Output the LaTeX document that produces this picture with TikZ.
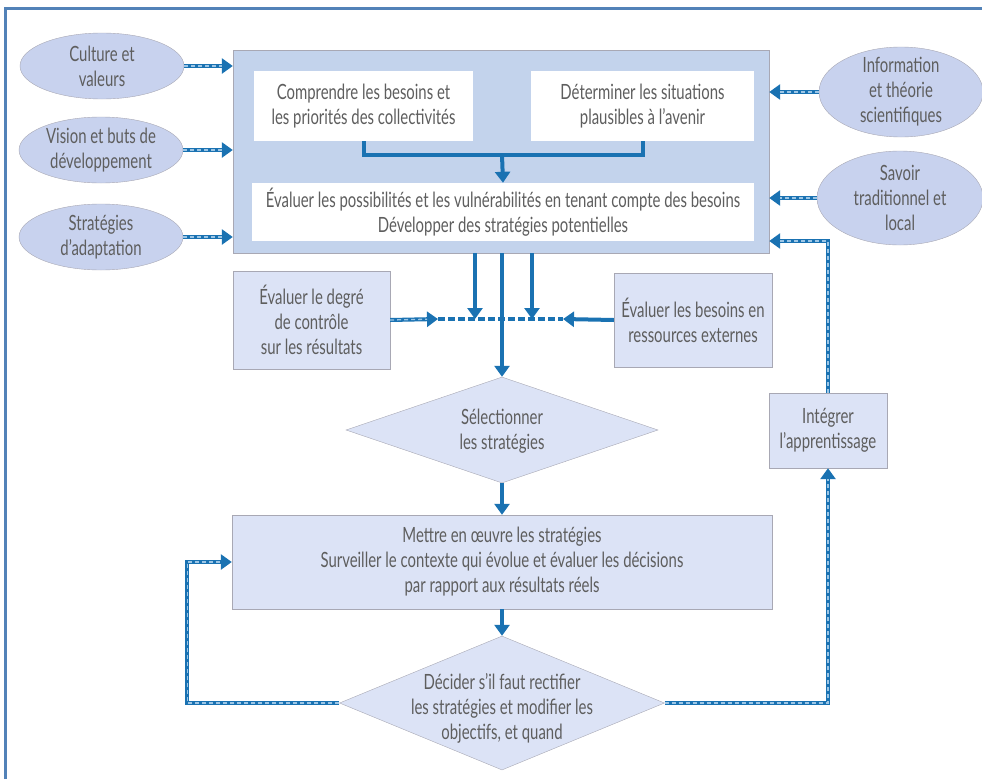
\documentclass[tikz,border=0pt]{standalone}
\usepackage{fontspec}
\setmainfont{Lato}[FakeStretch=0.71]
\usetikzlibrary{shapes.geometric,arrows.meta}

\definecolor{linkblue}{HTML}{1A72B2}
\definecolor{linklight}{HTML}{9CC6E6}
\definecolor{textgray}{HTML}{5E5E5E}
\definecolor{edgegray}{HTML}{A8A8B4}
\definecolor{ovalfill}{HTML}{C8D2EE}
\definecolor{boxfill}{HTML}{DCE3F6}
\definecolor{mainfill}{HTML}{C3D3EC}
\definecolor{framecol}{HTML}{5282B8}

\begin{document}
\begin{tikzpicture}[x=1pt, y=-1pt,
  every node/.style={font=\fontsize{21}{25}\selectfont, text=textgray, align=center, inner sep=0pt},
  oval/.style={ellipse, draw=edgegray, fill=ovalfill, inner ysep=-14pt, minimum width=164pt, minimum height=66pt},
  panel/.style={rectangle, draw=edgegray, fill=boxfill},
  whitebox/.style={rectangle, fill=white},
  choice/.style={diamond, draw=edgegray, fill=boxfill},
  link/.style={draw=linkblue, line width=4pt, -{Triangle[length=11pt,width=15pt]}},
  dlink/.style={link, postaction={draw=linklight, line width=1.3pt, dash pattern=on 4pt off 3pt, -, shorten >=11pt}},
  plainlink/.style={draw=linkblue, line width=4pt}
]
\useasboundingbox (0,0) rectangle (982,779);
\draw[framecol, line width=3pt] (5,779) -- (5,8) -- (982,8);

% inputs
\node[oval] (cult) at (102,66) {Culture et\\valeurs};
\node[oval] (vis) at (101,150) {Vision et buts de\\développement};
\node[oval] (adapt) at (101,237) {Stratégies\\d’adaptation};
\node[oval, minimum width=164pt, minimum height=90pt] (info) at (901,92) {Information\\et théorie\\scientifiques};
\node[oval, minimum width=166pt, minimum height=94pt] (savoir) at (900,198) {Savoir\\traditionnel et\\local};

% main block
\node[rectangle, draw=edgegray, fill=mainfill, minimum width=536pt, minimum height=203pt] (main) at (501,151.5) {};
\node[whitebox, minimum width=219pt, minimum height=70pt] (compr) at (363.5,106) {Comprendre les besoins et\\les priorités des collectivités};
\node[whitebox, minimum width=223pt, minimum height=70pt] (deter) at (642.5,106) {Déterminer les situations\\plausibles à l’avenir};
\node[whitebox, minimum width=502pt, minimum height=58pt] (evalposs) at (503,212) {Évaluer les possibilités et les vulnérabilités en tenant compte des besoins\\Développer des stratégies potentielles};

\node[panel, minimum width=157pt, minimum height=98pt] (degre) at (311.5,320) {Évaluer le degré\\de contrôle\\sur les résultats};
\node[panel, minimum width=158pt, minimum height=94pt] (besoins) at (693,320) {Évaluer les besoins en\\ressources externes};

\node[choice, minimum width=312pt, minimum height=106pt] (select) at (502,430) {};
\node (selecttxt) at (502,431) {Sélectionner\\les stratégies};

\node[panel, minimum width=118pt, minimum height=75pt] (integ) at (828,430.5) {Intégrer\\l’apprentissage};

\node[panel, minimum width=540pt, minimum height=94pt] (mettre) at (502,562) {Mettre en œuvre les stratégies\\Surveiller le contexte qui évolue et évaluer les décisions\\par rapport aux résultats réels};

\node[choice, minimum width=325pt, minimum height=134pt] (decider) at (502,703) {};
\node (decidertxt) at (502,708) {Décider s’il faut rectifier\\les stratégies et modifier les\\objectifs, et quand};

\coordinate (join) at (502,155);
\coordinate (hl) at (438,319);
\coordinate (hr) at (563,319);
\coordinate (fbturn) at (828,241);

% arrows into the main block
\draw[dlink] (cult.east) -- (cult.east -| main.west);
\draw[dlink] (vis.east) -- (vis.east -| main.west);
\draw[dlink] (adapt.east) -- (adapt.east -| main.west);
\draw[dlink] (info.west) -- (info.west -| main.east);
\draw[dlink] (savoir.west) -- (savoir.west -| main.east);

\draw[plainlink] (compr.south) |- (join) -| (deter.south);
\draw[link] (join) -- (evalposs.north);

% out of the main block
\draw[link] ([xshift=-26pt]main.south) -- ([xshift=-26pt]main.south |- hl);
\draw[link] ([xshift=31pt]main.south) -- ([xshift=31pt]main.south |- hr);
\draw[plainlink, dash pattern=on 7pt off 3pt] (hl) -- (hr);
\draw[dlink] (degre.east) -- (hl);
\draw[link] (besoins.west) -- (hr);
\draw[link] ([xshift=1pt]main.south) -- (select.north);

\draw[link] (select.south) -- (mettre.north);
\draw[link] (mettre.south) -- (decider.north);

% feedback loops
\draw[dlink] (decider.west) -- ++(-152,0) |- (mettre.west);
\draw[dlink] (decider.east) -| (integ.south);
\draw[dlink] (integ.north) -- (fbturn) -- (fbturn -| main.east);

\end{tikzpicture}
\end{document}
